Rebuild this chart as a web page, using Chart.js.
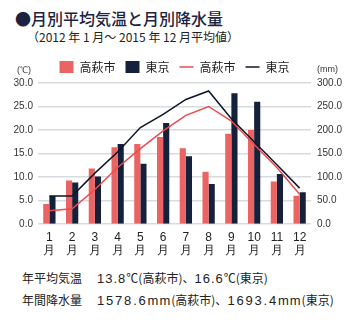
<!DOCTYPE html>
<html lang="ja">
<head>
<meta charset="utf-8">
<script src="https://cdn.jsdelivr.net/npm/chart.js@4"></script>
<style>
  body { margin: 0; width: 352px; height: 322px; background: #fff; overflow: hidden;
         font-family: "Noto Sans CJK JP", "Noto Sans", sans-serif; color: #222; position: relative; }
  .abs { position: absolute; white-space: nowrap; }
  #title { left: 15px; top: 6px; font-size: 16px; font-weight: 500; color: #1c2340; }
  #sub { left: 27px; top: 28px; font-size: 12px; color: #222; }
  #chartBox { position: absolute; left: 0; top: 49px; width: 352px; height: 216px; }
  .unit { font-family: "Liberation Sans", Arial, sans-serif; font-size: 9px; color: #333; }
  .note { font-size: 12px; line-height: 16px; color: #222; }
  .num { font-family: "Liberation Sans", Arial, sans-serif; font-size: 13px; letter-spacing: 1.8px; }
  .num1 { font-family: "Liberation Sans", Arial, sans-serif; font-size: 13px; letter-spacing: 1px; }
  .mm { font-family: "Liberation Sans", Arial, sans-serif; font-size: 13px; letter-spacing: 1px; }
</style>
</head>
<body>
<div id="title" class="abs">●月別平均気温と月別降水量</div>
<div id="sub" class="abs">（2012 年 1 月～ 2015 年 12 月平均値）</div>
<div id="chartBox"><canvas id="chart"></canvas></div>
<div class="abs unit" style="left:17px; top:64px;">(℃)</div>
<div class="abs unit" style="left:317px; top:64px;">(mm)</div>
<div class="abs note" style="left:22px; top:270px;">年平均気温<span style="margin-left:15px;"><span class="num1">13.8</span>℃(高萩市)、<span class="num1">16.6</span>℃(東京)</span></div>
<div class="abs note" style="left:22px; top:292px;">年間降水量<span style="margin-left:15px;"><span class="num">1578.6</span><span class="mm">mm</span>(高萩市)、<span class="num">1693.4</span><span class="mm">mm</span>(東京)</span></div>
<script>
const months = ['1', '2', '3', '4', '5', '6', '7', '8', '9', '10', '11', '12'];
// 降水量 (mm)
const rainTakahagi = [42, 92, 118, 163, 170, 185, 161, 111, 192, 200, 90, 60];
const rainTokyo = [59, 88, 101, 170, 128, 215, 144, 85, 278, 260, 106, 67];
// 平均気温 (℃)
const tempTakahagi = [2.8, 3.2, 7.3, 12.0, 16.0, 19.8, 23.1, 25.0, 21.9, 16.9, 12.0, 6.3];
const tempTokyo = [5.9, 5.9, 10.8, 15.3, 20.5, 23.3, 26.5, 28.3, 22.4, 17.5, 12.6, 7.6];
const tempTicks = [0, 5, 10, 15, 20, 25, 30];

const pink = '#e96463';
const navy = '#15203a';
const redLine = '#ec4b4a';
const darkLine = '#0e1628';

const labels = months.map(m => [m, '月']);

new Chart(document.getElementById('chart'), {
    data: {
        labels: labels,
        datasets: [
            { type: 'bar', label: '高萩市', data: rainTakahagi, backgroundColor: pink, yAxisID: 'y1', order: 2,
              categoryPercentage: 0.54, barPercentage: 1.0 },
            { type: 'bar', label: '東京', data: rainTokyo, backgroundColor: navy, yAxisID: 'y1', order: 2,
              categoryPercentage: 0.54, barPercentage: 1.0 },
            { type: 'line', label: '高萩市', data: tempTakahagi, borderColor: redLine, borderWidth: 1.5,
              pointRadius: 0, tension: 0, yAxisID: 'y', order: 1 },
            { type: 'line', label: '東京', data: tempTokyo, borderColor: darkLine, borderWidth: 1.5,
              pointRadius: 0, tension: 0, yAxisID: 'y', order: 1 }
        ]
    },
    options: {
        responsive: true,
        maintainAspectRatio: false,
        animation: false,
        layout: { padding: { top: 2, bottom: 0, left: 0, right: 0 } },
        plugins: {
            tooltip: { enabled: false },
            legend: {
                position: 'top',
                fullSize: false,
                labels: {
                    usePointStyle: true,
                    pointStyleWidth: 14,
                    boxHeight: 12,
                    padding: 10,
                    color: '#222',
                    font: { family: '"Noto Sans CJK JP", sans-serif', size: 12 },
                    generateLabels: chart => chart.data.datasets.map((ds, i) => ({
                        text: ds.label,
                        datasetIndex: i,
                        fillStyle: ds.type === 'bar' ? ds.backgroundColor : ds.borderColor,
                        strokeStyle: ds.type === 'bar' ? ds.backgroundColor : ds.borderColor,
                        lineWidth: ds.type === 'bar' ? 0 : 1.5,
                        pointStyle: ds.type === 'bar' ? 'rect' : 'line',
                        fontColor: '#222',
                        hidden: false
                    }))
                }
            }
        },
        scales: {
            x: {
                grid: { display: false, drawTicks: false },
                border: { display: false },
                ticks: {
                    color: '#222', padding: 8, maxRotation: 0, autoSkip: false,
                    font: { family: '"Liberation Sans", Arial, sans-serif', size: 12, lineHeight: 1.05 }
                }
            },
            y: {
                position: 'left',
                min: 0, max: 30,
                afterBuildTicks: s => { s.ticks = tempTicks.map(v => ({ value: v })); },
                afterFit: s => { s.width = 38; },
                grid: { color: '#d7dbe0', lineWidth: 1.5, drawTicks: false },
                border: { display: false },
                ticks: {
                    color: '#333', padding: 5,
                    font: { family: '"Liberation Sans", Arial, sans-serif', size: 10 },
                    callback: v => v.toFixed(1)
                }
            },
            y1: {
                position: 'right',
                min: 0, max: 300,
                afterBuildTicks: s => { s.ticks = tempTicks.map(v => ({ value: v * 10 })); },
                afterFit: s => { s.width = 41; },
                grid: { display: false, drawTicks: false },
                border: { display: false },
                ticks: {
                    color: '#333', padding: 6,
                    font: { family: '"Liberation Sans", Arial, sans-serif', size: 10 },
                    callback: v => v.toFixed(1)
                }
            }
        }
    }
});
</script>
</body>
</html>
